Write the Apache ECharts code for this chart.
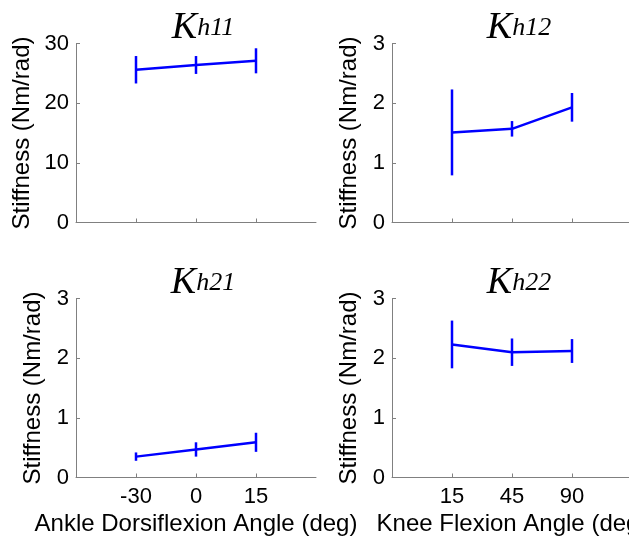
<!DOCTYPE html>
<html>
<head>
<meta charset="utf-8">
<script src="https://cdn.jsdelivr.net/npm/echarts@6/dist/echarts.min.js"></script>
<style>html,body{margin:0;padding:0;background:#fff}#c{width:629px;height:537px}</style>
</head>
<body>
<div id="c"></div>
<script>
// ---- data ----
const xPositions = [1, 2, 3];
const ankleLabels = ['-30', '0', '15'];
const kneeLabels = ['15', '45', '90'];

const kh11Mean = [25.6, 26.4, 27.1];
const kh11Err  = [2.3, 1.5, 2.1];
const kh12Mean = [1.51, 1.57, 1.93];
const kh12Err  = [0.72, 0.13, 0.24];
const kh21Mean = [0.35, 0.47, 0.59];
const kh21Err  = [0.07, 0.12, 0.16];
const kh22Mean = [2.23, 2.10, 2.12];
const kh22Err  = [0.40, 0.23, 0.20];

const titles = ['h11', 'h12', 'h21', 'h22'];
const yMaxes = [30, 3, 3, 3];
const yIntervals = [10, 1, 1, 1];
const yAxisName = 'Stiffness (Nm/rad)';
const ankleAxisName = 'Ankle Dorsiflexion Angle (deg)';
const kneeAxisName = 'Knee Flexion Angle (deg)';

// ---- layout ----
const panels = [
  {left: 76, top: 43.5, mean: kh11Mean, err: kh11Err, labels: ankleLabels, xname: '', yGap: 42},
  {left: 392, top: 43.5, mean: kh12Mean, err: kh12Err, labels: kneeLabels, xname: '', yGap: 31},
  {left: 76, top: 298.5, mean: kh21Mean, err: kh21Err, labels: ankleLabels, xname: ankleAxisName, yGap: 31},
  {left: 392, top: 298.5, mean: kh22Mean, err: kh22Err, labels: kneeLabels, xname: kneeAxisName, yGap: 31}
];
const W = 240, H = 179;
const axisGray = '#808080';
const blue = '#0000ff';
const sans = 'Liberation Sans, Arial, sans-serif';

const grid = [], xAxis = [], yAxis = [], series = [], title = [];
panels.forEach((p, i) => {
  const bottom = i >= 2;
  grid.push({left: p.left, top: p.top, width: W, height: H, containLabel: false, outerBoundsMode: 'none'});
  xAxis.push({
    type: 'value', gridIndex: i, min: 0, max: 4, interval: 1,
    axisLine: {show: true, lineStyle: {color: axisGray, width: 1}},
    axisTick: {show: true, inside: true, length: 4, customValues: xPositions, lineStyle: {color: axisGray}},
    axisLabel: {show: bottom, customValues: xPositions, margin: 8, color: '#000', fontFamily: sans, fontSize: 22,
      formatter: v => p.labels[Math.round(v) - 1]},
    splitLine: {show: false},
    name: p.xname, nameLocation: 'middle', nameGap: 35,
    nameTextStyle: {color: '#000', fontFamily: sans, fontSize: 24}
  });
  yAxis.push({
    type: 'value', gridIndex: i, min: 0, max: yMaxes[i], interval: yIntervals[i],
    axisLine: {show: true, lineStyle: {color: axisGray, width: 1}},
    axisTick: {show: true, inside: true, length: 4, lineStyle: {color: axisGray}},
    axisLabel: {margin: 7, color: '#000', fontFamily: sans, fontSize: 22},
    splitLine: {show: false},
    name: yAxisName, nameLocation: 'middle', nameGap: p.yGap, nameRotate: 90,
    nameTextStyle: {color: '#000', fontFamily: sans, fontSize: 24}
  });
  series.push({
    type: 'line', xAxisIndex: i, yAxisIndex: i, symbol: 'none', silent: true,
    lineStyle: {color: blue, width: 2.5},
    data: xPositions.map((x, k) => [x, p.mean[k]])
  });
  series.push({
    type: 'custom', xAxisIndex: i, yAxisIndex: i, silent: true,
    data: xPositions.map((x, k) => [x, p.mean[k] - p.err[k], p.mean[k] + p.err[k]]),
    renderItem: (params, api) => {
      const a = api.coord([api.value(0), api.value(1)]);
      const b = api.coord([api.value(0), api.value(2)]);
      return {type: 'line', shape: {x1: a[0], y1: a[1], x2: b[0], y2: b[1]},
        style: {stroke: blue, lineWidth: 2.5}};
    }
  });
  title.push({
    text: '{k|K}{s|' + titles[i] + '}',
    left: p.left + W / 2 + 2, top: p.top - 41, textAlign: 'center',
    textStyle: {
      fontWeight: 'normal',
      rich: {
        k: {fontFamily: 'Liberation Serif, Times New Roman, serif', fontStyle: 'italic', fontWeight: 'normal', fontSize: 38, lineHeight: 42, color: '#000'},
        s: {fontFamily: 'Liberation Serif, Times New Roman, serif', fontStyle: 'italic', fontWeight: 'normal', fontSize: 26, lineHeight: 22, color: '#000'}
      }
    }
  });
});

const chart = echarts.init(document.getElementById('c'), null, {renderer: 'canvas'});
chart.setOption({animation: false, backgroundColor: '#fff', title, grid, xAxis, yAxis, series});
</script>
</body>
</html>
